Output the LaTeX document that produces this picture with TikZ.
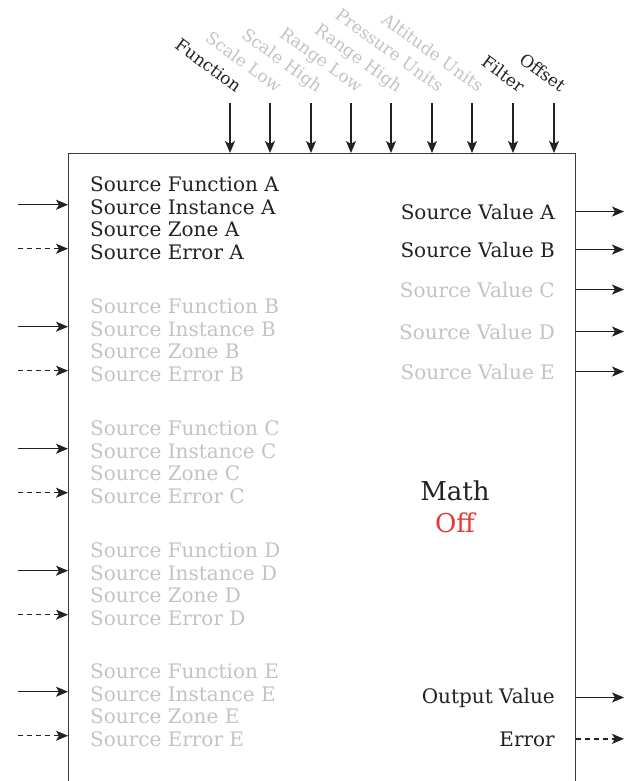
\documentclass[tikz,border=0pt]{standalone}
\usepackage{fontspec}
\setmainfont{DejaVu Serif}
\usetikzlibrary{arrows.meta}
\definecolor{Ink}{HTML}{222222}
\definecolor{Dim}{HTML}{C3C3C3}
\definecolor{Frame}{HTML}{3A3A3A}
\definecolor{OffRed}{HTML}{E23A3A}
\tikzset{
    pinlabel/.style={font=\fontsize{20}{24}\selectfont, inner sep=0pt, text=Ink},
    dimlabel/.style={pinlabel, text=Dim},
    toplabel/.style={rotate=-36, anchor=base east, font=\fontsize{17}{20}\selectfont},
    biglabel/.style={font=\fontsize{26}{30}\selectfont, inner sep=0pt},
    sig/.style={-{Stealth[length=12pt, width=10pt, inset=3pt]}, line width=1.3pt, color=Ink},
    errsig/.style={sig, dash pattern=on 5pt off 4pt},
    block/.style={draw=Frame, line width=1pt, minimum width=507pt, minimum height=660pt, inner sep=0pt, anchor=north west},
}

\begin{document}
\begin{tikzpicture}[x=1pt, y=-1pt]
    \useasboundingbox (0,0) rectangle (632,781);
    \clip (0,0) rectangle (632,781);

    % Block
    \node[block] (blk) at (68,153) {};

    % Top inputs
    \coordinate (tFun) at (230,103);
    \coordinate (tSLo) at (270,103);
    \coordinate (tSHi) at (311,103);
    \coordinate (tRLo) at (351,103);
    \coordinate (tRHi) at (391,103);
    \coordinate (tPre) at (432,103);
    \coordinate (tAlt) at (472,103);
    \coordinate (tFil) at (513,103);
    \coordinate (tOff) at (554,103);
    \node[pinlabel, toplabel] (lFun) at ([shift={(6,-10)}]tFun) {Function};
    \node[dimlabel, toplabel] (lSLo) at ([shift={(6,-10)}]tSLo) {Scale Low};
    \node[dimlabel, toplabel] (lSHi) at ([shift={(6,-10)}]tSHi) {Scale High};
    \node[dimlabel, toplabel] (lRLo) at ([shift={(6,-10)}]tRLo) {Range Low};
    \node[dimlabel, toplabel] (lRHi) at ([shift={(6,-10)}]tRHi) {Range High};
    \node[dimlabel, toplabel] (lPre) at ([shift={(6,-10)}]tPre) {Pressure Units};
    \node[dimlabel, toplabel] (lAlt) at ([shift={(6,-10)}]tAlt) {Altitude Units};
    \node[pinlabel, toplabel] (lFil) at ([shift={(6,-10)}]tFil) {Filter};
    \node[pinlabel, toplabel] (lOff) at ([shift={(6,-10)}]tOff) {Offset};
    \draw[sig] (tFun) -- (blk.north -| tFun);
    \draw[sig] (tSLo) -- (blk.north -| tSLo);
    \draw[sig] (tSHi) -- (blk.north -| tSHi);
    \draw[sig] (tRLo) -- (blk.north -| tRLo);
    \draw[sig] (tRHi) -- (blk.north -| tRHi);
    \draw[sig] (tPre) -- (blk.north -| tPre);
    \draw[sig] (tAlt) -- (blk.north -| tAlt);
    \draw[sig] (tFil) -- (blk.north -| tFil);
    \draw[sig] (tOff) -- (blk.north -| tOff);

    % Source A
    \node[pinlabel, anchor=base west] (fnA) at (90,191) {Source Function A};
    \node[pinlabel, anchor=base west] (inA) at (90,214) {Source Instance A};
    \node[pinlabel, anchor=base west] (znA) at (90,236) {Source Zone A};
    \node[pinlabel, anchor=base west] (erA) at (90,259) {Source Error A};
    % Source B
    \node[dimlabel, anchor=base west] (fnB) at (90,313) {Source Function B};
    \node[dimlabel, anchor=base west] (inB) at (90,336) {Source Instance B};
    \node[dimlabel, anchor=base west] (znB) at (90,358) {Source Zone B};
    \node[dimlabel, anchor=base west] (erB) at (90,381) {Source Error B};
    % Source C
    \node[dimlabel, anchor=base west] (fnC) at (90,435) {Source Function C};
    \node[dimlabel, anchor=base west] (inC) at (90,458) {Source Instance C};
    \node[dimlabel, anchor=base west] (znC) at (90,480) {Source Zone C};
    \node[dimlabel, anchor=base west] (erC) at (90,503) {Source Error C};
    % Source D
    \node[dimlabel, anchor=base west] (fnD) at (90,557) {Source Function D};
    \node[dimlabel, anchor=base west] (inD) at (90,580) {Source Instance D};
    \node[dimlabel, anchor=base west] (znD) at (90,602) {Source Zone D};
    \node[dimlabel, anchor=base west] (erD) at (90,625) {Source Error D};
    % Source E
    \node[dimlabel, anchor=base west] (fnE) at (90,678) {Source Function E};
    \node[dimlabel, anchor=base west] (inE) at (90,701) {Source Instance E};
    \node[dimlabel, anchor=base west] (znE) at (90,723) {Source Zone E};
    \node[dimlabel, anchor=base west] (erE) at (90,746) {Source Error E};

    % Left inputs
    \draw[sig] ([shift={(-50,-2)}]blk.west |- inA) -- ([yshift=2pt]blk.west |- inA);
    \draw[errsig] ([shift={(-50,-3)}]blk.west |- erA) -- ([yshift=3pt]blk.west |- erA);
    \draw[sig] ([shift={(-50,-2)}]blk.west |- inB) -- ([yshift=2pt]blk.west |- inB);
    \draw[errsig] ([shift={(-50,-3)}]blk.west |- erB) -- ([yshift=3pt]blk.west |- erB);
    \draw[sig] ([shift={(-50,-2)}]blk.west |- inC) -- ([yshift=2pt]blk.west |- inC);
    \draw[errsig] ([shift={(-50,-3)}]blk.west |- erC) -- ([yshift=3pt]blk.west |- erC);
    \draw[sig] ([shift={(-50,-2)}]blk.west |- inD) -- ([yshift=2pt]blk.west |- inD);
    \draw[errsig] ([shift={(-50,-3)}]blk.west |- erD) -- ([yshift=3pt]blk.west |- erD);
    \draw[sig] ([shift={(-50,-2)}]blk.west |- inE) -- ([yshift=2pt]blk.west |- inE);
    \draw[errsig] ([shift={(-50,-3)}]blk.west |- erE) -- ([yshift=3pt]blk.west |- erE);

    % Right outputs
    \node[pinlabel, anchor=base east] (vlA) at (555,219) {Source Value A};
    \node[pinlabel, anchor=base east] (vlB) at (555,257) {Source Value B};
    \node[dimlabel, anchor=base east] (vlC) at (555,297) {Source Value C};
    \node[dimlabel, anchor=base east] (vlD) at (555,339) {Source Value D};
    \node[dimlabel, anchor=base east] (vlE) at (555,379) {Source Value E};
    \node[pinlabel, anchor=base east] (outv) at (555,703) {Output Value};
    \node[pinlabel, anchor=base east] (outE) at (555,746) {Error};
    \draw[sig] (blk.east |- vlA) -- ++(48,0);
    \draw[sig] (blk.east |- vlB) -- ++(48,0);
    \draw[sig] (blk.east |- vlC) -- ++(48,0);
    \draw[sig] (blk.east |- vlD) -- ++(48,0);
    \draw[sig] (blk.east |- vlE) -- ++(48,0);
    \draw[sig] (blk.east |- outv) -- ++(48,0);
    \draw[errsig] (blk.east |- outE) -- ++(48,0);

    % Name and state
    \node[biglabel, text=Ink] (name) at (455,491) {Math};
    \node[biglabel, text=OffRed] (state) at (455,523) {Off};
\end{tikzpicture}
\end{document}
